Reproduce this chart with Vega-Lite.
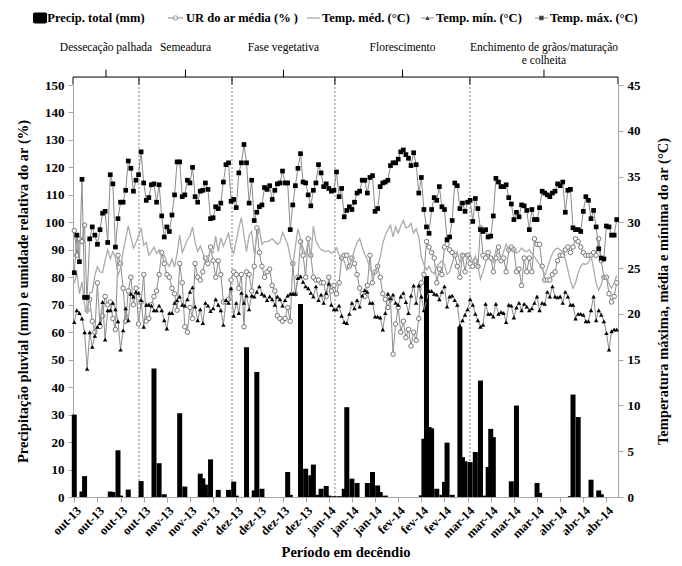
{
"$schema":"https://vega.github.io/schema/vega-lite/v6.json",
"width":545,"height":412,
"autosize":{"type":"none"},
"padding":{"left":73,"top":85,"right":64,"bottom":69},
"background":"white",
"config":{"view":{"stroke":null},"font":"Liberation Serif",
"axis":{"grid":false,"labelFont":"Liberation Serif","titleFont":"Liberation Serif","labelFontWeight":"bold","titleFontWeight":"bold","labelFontSize":13,"titleFontSize":14.5,"labelColor":"black","titleColor":"black","domainColor":"#a6a6a6","tickColor":"#a6a6a6","tickSize":5}},
"datasets":{
"diario":[
{"dia":"2013-10-01","p":30,"ur":97,"tmed":23.3,"tmin":19.1,"tmax":24.5},
{"dia":"2013-10-02","p":0,"ur":88,"tmed":24.5,"tmin":20.4,"tmax":28.6},
{"dia":"2013-10-03","p":0,"ur":94,"tmed":22.2,"tmin":20.1,"tmax":25.7},
{"dia":"2013-10-04","p":2,"ur":93,"tmed":23.5,"tmin":19.5,"tmax":34.7},
{"dia":"2013-10-05","p":7.6,"ur":99,"tmed":21.0,"tmin":18.0,"tmax":21.8},
{"dia":"2013-10-06","p":0,"ur":68,"tmed":20.0,"tmin":14.0,"tmax":21.8},
{"dia":"2013-10-07","p":0,"ur":72,"tmed":22.3,"tmin":18.0,"tmax":28.2},
{"dia":"2013-10-08","p":0,"ur":64,"tmed":22.4,"tmin":16.4,"tmax":29.5},
{"dia":"2013-10-09","p":0,"ur":60,"tmed":24.2,"tmin":17.6,"tmax":28.6},
{"dia":"2013-10-10","p":0,"ur":78,"tmed":25.2,"tmin":18.6,"tmax":27.6},
{"dia":"2013-10-11","p":0,"ur":62,"tmed":24.6,"tmin":19.0,"tmax":29.2},
{"dia":"2013-10-12","p":0,"ur":66,"tmed":24.5,"tmin":21.3,"tmax":31.0},
{"dia":"2013-10-13","p":0,"ur":73,"tmed":25.9,"tmin":17.2,"tmax":31.2},
{"dia":"2013-10-14","p":0,"ur":70,"tmed":27.0,"tmin":20.4,"tmax":27.8},
{"dia":"2013-10-15","p":2,"ur":71,"tmed":26.0,"tmin":20.4,"tmax":35.2},
{"dia":"2013-10-16","p":1.8,"ur":65,"tmed":26.8,"tmin":21.2,"tmax":34.2},
{"dia":"2013-10-17","p":0,"ur":61,"tmed":26.2,"tmin":20.5,"tmax":27.3},
{"dia":"2013-10-18","p":17,"ur":88,"tmed":24.2,"tmin":19.2,"tmax":30.4},
{"dia":"2013-10-19","p":0.5,"ur":85,"tmed":25.0,"tmin":16.1,"tmax":32.2},
{"dia":"2013-10-20","p":0,"ur":76,"tmed":26.8,"tmin":18.2,"tmax":32.2},
{"dia":"2013-10-21","p":0,"ur":64,"tmed":28.2,"tmin":20.6,"tmax":33.5},
{"dia":"2013-10-22","p":2.7,"ur":75,"tmed":29.6,"tmin":19.3,"tmax":36.7},
{"dia":"2013-10-23","p":0,"ur":80,"tmed":28.4,"tmin":22.2,"tmax":35.9},
{"dia":"2013-10-24","p":0,"ur":70,"tmed":27.2,"tmin":21.9,"tmax":33.4},
{"dia":"2013-10-25","p":0,"ur":76,"tmed":27.8,"tmin":22.4,"tmax":34.6},
{"dia":"2013-10-26","p":0,"ur":63,"tmed":28.5,"tmin":22.3,"tmax":35.2},
{"dia":"2013-10-27","p":5.8,"ur":71,"tmed":29.4,"tmin":21.5,"tmax":37.7},
{"dia":"2013-10-28","p":0,"ur":81,"tmed":27.5,"tmin":18.6,"tmax":34.3},
{"dia":"2013-10-29","p":0,"ur":64,"tmed":27.8,"tmin":21.0,"tmax":32.4},
{"dia":"2013-10-30","p":0,"ur":65,"tmed":26.4,"tmin":21.0,"tmax":32.7},
{"dia":"2013-10-31","p":0,"ur":70,"tmed":26.8,"tmin":20.9,"tmax":34.1},
{"dia":"2013-11-01","p":46.8,"ur":73,"tmed":27.3,"tmin":20.4,"tmax":34.2},
{"dia":"2013-11-02","p":0,"ur":75,"tmed":26.6,"tmin":20.4,"tmax":32.2},
{"dia":"2013-11-03","p":12.3,"ur":81,"tmed":27.0,"tmin":20.9,"tmax":34.1},
{"dia":"2013-11-04","p":0,"ur":89,"tmed":26.2,"tmin":20.4,"tmax":30.7},
{"dia":"2013-11-05","p":1,"ur":85,"tmed":26.4,"tmin":19.3,"tmax":28.4},
{"dia":"2013-11-06","p":0,"ur":81,"tmed":25.6,"tmin":18.4,"tmax":29.5},
{"dia":"2013-11-07","p":0,"ur":80,"tmed":25.2,"tmin":20.1,"tmax":29.0},
{"dia":"2013-11-08","p":0,"ur":76,"tmed":26.0,"tmin":20.1,"tmax":30.8},
{"dia":"2013-11-09","p":0,"ur":74,"tmed":25.1,"tmin":21.2,"tmax":33.0},
{"dia":"2013-11-10","p":0,"ur":68,"tmed":26.6,"tmin":21.5,"tmax":36.6},
{"dia":"2013-11-11","p":30.5,"ur":85,"tmed":28.6,"tmin":21.9,"tmax":36.6},
{"dia":"2013-11-12","p":0,"ur":78,"tmed":26.7,"tmin":21.0,"tmax":32.8},
{"dia":"2013-11-13","p":3.8,"ur":62,"tmed":27.4,"tmin":20.9,"tmax":33.0},
{"dia":"2013-11-14","p":0,"ur":60,"tmed":28.1,"tmin":21.6,"tmax":34.6},
{"dia":"2013-11-15","p":0,"ur":69,"tmed":28.5,"tmin":22.4,"tmax":34.3},
{"dia":"2013-11-16","p":0,"ur":65,"tmed":29.5,"tmin":22.9,"tmax":36.0},
{"dia":"2013-11-17","p":0,"ur":85,"tmed":27.8,"tmin":20.8,"tmax":32.8},
{"dia":"2013-11-18","p":0,"ur":80,"tmed":26.8,"tmin":19.3,"tmax":32.2},
{"dia":"2013-11-19","p":8.5,"ur":79,"tmed":27.4,"tmin":20.5,"tmax":33.4},
{"dia":"2013-11-20","p":6.8,"ur":82,"tmed":26.7,"tmin":19.0,"tmax":33.5},
{"dia":"2013-11-21","p":4.5,"ur":87,"tmed":25.6,"tmin":21.2,"tmax":34.3},
{"dia":"2013-11-22","p":0,"ur":85,"tmed":26.3,"tmin":20.9,"tmax":33.6},
{"dia":"2013-11-23","p":13.7,"ur":91,"tmed":26.8,"tmin":20.3,"tmax":30.4},
{"dia":"2013-11-24","p":0,"ur":86,"tmed":26.7,"tmin":20.6,"tmax":30.5},
{"dia":"2013-11-25","p":0,"ur":80,"tmed":28.5,"tmin":21.6,"tmax":31.7},
{"dia":"2013-11-26","p":2.6,"ur":86,"tmed":26.8,"tmin":21.0,"tmax":31.5},
{"dia":"2013-11-27","p":0,"ur":81,"tmed":28.3,"tmin":20.4,"tmax":32.1},
{"dia":"2013-11-28","p":0,"ur":71,"tmed":27.4,"tmin":18.8,"tmax":34.4},
{"dia":"2013-11-29","p":0,"ur":71,"tmed":28.1,"tmin":21.5,"tmax":36.3},
{"dia":"2013-11-30","p":2.6,"ur":72,"tmed":28.8,"tmin":21.2,"tmax":36.5},
{"dia":"2013-12-01","p":0,"ur":79,"tmed":27.2,"tmin":22.8,"tmax":32.3},
{"dia":"2013-12-02","p":5.6,"ur":82,"tmed":26.6,"tmin":19.8,"tmax":32.5},
{"dia":"2013-12-03","p":0.5,"ur":81,"tmed":28.0,"tmin":21.2,"tmax":31.6},
{"dia":"2013-12-04","p":0,"ur":76,"tmed":29.4,"tmin":20.1,"tmax":35.4},
{"dia":"2013-12-05","p":0,"ur":81,"tmed":30.5,"tmin":22.3,"tmax":36.5},
{"dia":"2013-12-06","p":0,"ur":62,"tmed":28.6,"tmin":21.2,"tmax":38.5},
{"dia":"2013-12-07","p":54.5,"ur":82,"tmed":26.8,"tmin":22.0,"tmax":36.5},
{"dia":"2013-12-08","p":0,"ur":81,"tmed":28.6,"tmin":20.5,"tmax":32.1},
{"dia":"2013-12-09","p":0,"ur":75,"tmed":29.0,"tmin":22.0,"tmax":34.6},
{"dia":"2013-12-10","p":2.4,"ur":84,"tmed":26.6,"tmin":21.9,"tmax":30.2},
{"dia":"2013-12-11","p":45.5,"ur":98,"tmed":28.4,"tmin":22.4,"tmax":31.1},
{"dia":"2013-12-12","p":0,"ur":89,"tmed":29.2,"tmin":23.0,"tmax":31.7},
{"dia":"2013-12-13","p":3,"ur":84,"tmed":27.6,"tmin":22.2,"tmax":31.9},
{"dia":"2013-12-14","p":0,"ur":80,"tmed":27.9,"tmin":22.0,"tmax":33.8},
{"dia":"2013-12-15","p":0,"ur":82,"tmed":27.9,"tmin":21.5,"tmax":33.6},
{"dia":"2013-12-16","p":0,"ur":83,"tmed":28.0,"tmin":21.9,"tmax":34.0},
{"dia":"2013-12-17","p":0,"ur":77,"tmed":28.2,"tmin":21.6,"tmax":32.5},
{"dia":"2013-12-18","p":0,"ur":75,"tmed":27.9,"tmin":21.0,"tmax":33.5},
{"dia":"2013-12-19","p":0,"ur":66,"tmed":27.6,"tmin":21.9,"tmax":34.2},
{"dia":"2013-12-20","p":0,"ur":65,"tmed":27.8,"tmin":21.6,"tmax":34.3},
{"dia":"2013-12-21","p":0,"ur":64,"tmed":28.9,"tmin":20.9,"tmax":35.6},
{"dia":"2013-12-22","p":0,"ur":65,"tmed":28.3,"tmin":21.5,"tmax":34.3},
{"dia":"2013-12-23","p":9.1,"ur":69,"tmed":27.6,"tmin":22.0,"tmax":34.3},
{"dia":"2013-12-24","p":0.8,"ur":64,"tmed":26.2,"tmin":22.2,"tmax":29.2},
{"dia":"2013-12-25","p":0,"ur":85,"tmed":25.3,"tmin":22.2,"tmax":31.9},
{"dia":"2013-12-26","p":0,"ur":74,"tmed":27.4,"tmin":22.2,"tmax":34.0},
{"dia":"2013-12-27","p":0,"ur":80,"tmed":29.3,"tmin":23.9,"tmax":35.9},
{"dia":"2013-12-28","p":70.3,"ur":93,"tmed":28.2,"tmin":24.1,"tmax":37.5},
{"dia":"2013-12-29","p":0,"ur":88,"tmed":27.2,"tmin":23.5,"tmax":34.4},
{"dia":"2013-12-30","p":10.3,"ur":80,"tmed":26.4,"tmin":23.0,"tmax":34.3},
{"dia":"2013-12-31","p":0.5,"ur":94,"tmed":28.0,"tmin":22.8,"tmax":33.0},
{"dia":"2014-01-01","p":7.9,"ur":88,"tmed":26.1,"tmin":22.3,"tmax":31.8},
{"dia":"2014-01-02","p":11.8,"ur":80,"tmed":29.6,"tmin":21.9,"tmax":33.5},
{"dia":"2014-01-03","p":0,"ur":79,"tmed":28.0,"tmin":23.0,"tmax":34.3},
{"dia":"2014-01-04","p":0.8,"ur":79,"tmed":27.4,"tmin":21.5,"tmax":36.3},
{"dia":"2014-01-05","p":3,"ur":78,"tmed":27.0,"tmin":22.1,"tmax":35.4},
{"dia":"2014-01-06","p":0,"ur":78,"tmed":26.9,"tmin":21.2,"tmax":33.9},
{"dia":"2014-01-07","p":4,"ur":73,"tmed":26.8,"tmin":22.3,"tmax":34.2},
{"dia":"2014-01-08","p":0.5,"ur":80,"tmed":26.9,"tmin":23.3,"tmax":33.7},
{"dia":"2014-01-09","p":0,"ur":75,"tmed":26.6,"tmin":21.0,"tmax":33.4},
{"dia":"2014-01-10","p":0.3,"ur":77,"tmed":26.8,"tmin":20.5,"tmax":33.5},
{"dia":"2014-01-11","p":0,"ur":74,"tmed":27.2,"tmin":20.5,"tmax":35.5},
{"dia":"2014-01-12","p":0.3,"ur":78,"tmed":26.5,"tmin":20.9,"tmax":32.8},
{"dia":"2014-01-13","p":0,"ur":87,"tmed":26.0,"tmin":19.8,"tmax":33.7},
{"dia":"2014-01-14","p":3,"ur":88,"tmed":25.8,"tmin":19.1,"tmax":30.6},
{"dia":"2014-01-15","p":32.7,"ur":88,"tmed":24.8,"tmin":19.0,"tmax":31.3},
{"dia":"2014-01-16","p":0,"ur":84,"tmed":25.2,"tmin":20.0,"tmax":31.7},
{"dia":"2014-01-17","p":6.7,"ur":87,"tmed":26.0,"tmin":21.2,"tmax":31.4},
{"dia":"2014-01-18","p":0,"ur":85,"tmed":27.0,"tmin":20.6,"tmax":32.2},
{"dia":"2014-01-19","p":5.1,"ur":81,"tmed":27.8,"tmin":21.5,"tmax":33.2},
{"dia":"2014-01-20","p":0,"ur":76,"tmed":28.2,"tmin":20.8,"tmax":33.4},
{"dia":"2014-01-21","p":0,"ur":74,"tmed":27.3,"tmin":22.0,"tmax":34.6},
{"dia":"2014-01-22","p":0,"ur":73,"tmed":26.5,"tmin":22.6,"tmax":34.6},
{"dia":"2014-01-23","p":5.1,"ur":77,"tmed":25.9,"tmin":22.4,"tmax":33.2},
{"dia":"2014-01-24","p":0,"ur":88,"tmed":25.0,"tmin":21.2,"tmax":34.9},
{"dia":"2014-01-25","p":9.1,"ur":78,"tmed":24.2,"tmin":21.2,"tmax":35.1},
{"dia":"2014-01-26","p":0,"ur":82,"tmed":24.6,"tmin":19.7,"tmax":31.2},
{"dia":"2014-01-27","p":4.2,"ur":84,"tmed":25.2,"tmin":19.7,"tmax":31.5},
{"dia":"2014-01-28","p":1.8,"ur":80,"tmed":26.2,"tmin":19.6,"tmax":33.9},
{"dia":"2014-01-29","p":0,"ur":74,"tmed":27.7,"tmin":18.3,"tmax":34.3},
{"dia":"2014-01-30","p":0.5,"ur":72,"tmed":28.6,"tmin":20.1,"tmax":34.4},
{"dia":"2014-01-31","p":0,"ur":69,"tmed":29.2,"tmin":22.2,"tmax":34.6},
{"dia":"2014-02-01","p":0,"ur":72,"tmed":29.7,"tmin":21.7,"tmax":36.2},
{"dia":"2014-02-02","p":0,"ur":52,"tmed":28.4,"tmin":22.1,"tmax":36.5},
{"dia":"2014-02-03","p":0,"ur":63,"tmed":29.5,"tmin":21.2,"tmax":36.5},
{"dia":"2014-02-04","p":0,"ur":69,"tmed":28.8,"tmin":21.0,"tmax":36.9},
{"dia":"2014-02-05","p":0,"ur":60,"tmed":29.6,"tmin":21.9,"tmax":37.7},
{"dia":"2014-02-06","p":0,"ur":64,"tmed":30.2,"tmin":22.3,"tmax":37.9},
{"dia":"2014-02-07","p":0,"ur":58,"tmed":29.4,"tmin":21.3,"tmax":37.4},
{"dia":"2014-02-08","p":0,"ur":61,"tmed":29.5,"tmin":20.1,"tmax":37.0},
{"dia":"2014-02-09","p":0,"ur":55,"tmed":29.9,"tmin":22.0,"tmax":36.2},
{"dia":"2014-02-10","p":0,"ur":60,"tmed":28.8,"tmin":23.1,"tmax":37.6},
{"dia":"2014-02-11","p":0,"ur":57,"tmed":29.3,"tmin":21.2,"tmax":36.3},
{"dia":"2014-02-12","p":0,"ur":65,"tmed":28.4,"tmin":23.1,"tmax":33.2},
{"dia":"2014-02-13","p":0.6,"ur":78,"tmed":26.2,"tmin":21.9,"tmax":34.9},
{"dia":"2014-02-14","p":21.2,"ur":81,"tmed":25.4,"tmin":20.4,"tmax":31.4},
{"dia":"2014-02-15","p":80.5,"ur":93,"tmed":24.8,"tmin":21.5,"tmax":29.5},
{"dia":"2014-02-16","p":25.5,"ur":91,"tmed":25.2,"tmin":22.5,"tmax":28.8},
{"dia":"2014-02-17","p":25,"ur":89,"tmed":24.6,"tmin":22.5,"tmax":31.4},
{"dia":"2014-02-18","p":0,"ur":87,"tmed":24.4,"tmin":22.2,"tmax":32.7},
{"dia":"2014-02-19","p":3,"ur":78,"tmed":25.2,"tmin":22.1,"tmax":32.4},
{"dia":"2014-02-20","p":0,"ur":83,"tmed":25.5,"tmin":21.6,"tmax":33.9},
{"dia":"2014-02-21","p":0.8,"ur":81,"tmed":25.8,"tmin":22.4,"tmax":31.7},
{"dia":"2014-02-22","p":5.5,"ur":91,"tmed":25.4,"tmin":23.0,"tmax":31.4},
{"dia":"2014-02-23","p":19.8,"ur":92,"tmed":24.3,"tmin":20.8,"tmax":28.1},
{"dia":"2014-02-24","p":0,"ur":90,"tmed":24.6,"tmin":21.9,"tmax":28.4},
{"dia":"2014-02-25","p":0.8,"ur":89,"tmed":25.5,"tmin":22.0,"tmax":30.2},
{"dia":"2014-02-26","p":0,"ur":88,"tmed":26.5,"tmin":21.5,"tmax":34.3},
{"dia":"2014-02-27","p":0,"ur":84,"tmed":26.8,"tmin":21.0,"tmax":34.0},
{"dia":"2014-02-28","p":62,"ur":80,"tmed":25.6,"tmin":18.7,"tmax":31.5},
{"dia":"2014-03-01","p":14.5,"ur":88,"tmed":26.5,"tmin":19.3,"tmax":32.1},
{"dia":"2014-03-02","p":13,"ur":82,"tmed":26.6,"tmin":19.9,"tmax":31.2},
{"dia":"2014-03-03","p":0,"ur":88,"tmed":26.2,"tmin":20.5,"tmax":32.2},
{"dia":"2014-03-04","p":12.7,"ur":85,"tmed":26.5,"tmin":21.6,"tmax":32.4},
{"dia":"2014-03-05","p":0,"ur":84,"tmed":25.6,"tmin":21.0,"tmax":30.1},
{"dia":"2014-03-06","p":16.4,"ur":86,"tmed":26.3,"tmin":20.0,"tmax":32.6},
{"dia":"2014-03-07","p":0,"ur":84,"tmed":25.2,"tmin":19.3,"tmax":31.5},
{"dia":"2014-03-08","p":42.4,"ur":98,"tmed":23.8,"tmin":18.6,"tmax":29.2},
{"dia":"2014-03-09","p":0,"ur":88,"tmed":24.6,"tmin":18.8,"tmax":29.0},
{"dia":"2014-03-10","p":0.5,"ur":87,"tmed":25.6,"tmin":21.1,"tmax":29.2},
{"dia":"2014-03-11","p":10.9,"ur":89,"tmed":26.3,"tmin":20.0,"tmax":28.4},
{"dia":"2014-03-12","p":24.8,"ur":87,"tmed":25.8,"tmin":20.0,"tmax":28.5},
{"dia":"2014-03-13","p":21.8,"ur":82,"tmed":25.6,"tmin":19.7,"tmax":30.7},
{"dia":"2014-03-14","p":0,"ur":87,"tmed":27.0,"tmin":21.1,"tmax":34.8},
{"dia":"2014-03-15","p":0,"ur":91,"tmed":26.6,"tmin":20.0,"tmax":34.4},
{"dia":"2014-03-16","p":0,"ur":86,"tmed":26.0,"tmin":20.2,"tmax":33.9},
{"dia":"2014-03-17","p":0,"ur":87,"tmed":26.8,"tmin":20.1,"tmax":33.9},
{"dia":"2014-03-18","p":0,"ur":82,"tmed":27.6,"tmin":19.1,"tmax":34.1},
{"dia":"2014-03-19","p":0,"ur":90,"tmed":27.0,"tmin":21.0,"tmax":32.7},
{"dia":"2014-03-20","p":5.7,"ur":91,"tmed":27.2,"tmin":20.9,"tmax":32.0},
{"dia":"2014-03-21","p":0,"ur":90,"tmed":27.0,"tmin":19.6,"tmax":30.3},
{"dia":"2014-03-22","p":33.3,"ur":82,"tmed":26.6,"tmin":20.7,"tmax":31.1},
{"dia":"2014-03-23","p":0,"ur":83,"tmed":26.8,"tmin":21.2,"tmax":30.6},
{"dia":"2014-03-24","p":0,"ur":77,"tmed":27.2,"tmin":20.4,"tmax":31.9},
{"dia":"2014-03-25","p":0,"ur":87,"tmed":26.9,"tmin":21.1,"tmax":31.8},
{"dia":"2014-03-26","p":0,"ur":82,"tmed":26.8,"tmin":20.8,"tmax":31.3},
{"dia":"2014-03-27","p":0,"ur":87,"tmed":27.0,"tmin":20.4,"tmax":29.2},
{"dia":"2014-03-28","p":0,"ur":82,"tmed":26.6,"tmin":20.6,"tmax":31.4},
{"dia":"2014-03-29","p":0,"ur":94,"tmed":26.2,"tmin":21.2,"tmax":30.3},
{"dia":"2014-03-30","p":5.1,"ur":92,"tmed":25.8,"tmin":21.9,"tmax":30.3},
{"dia":"2014-03-31","p":1.5,"ur":92,"tmed":25.4,"tmin":20.4,"tmax":31.6},
{"dia":"2014-04-01","p":0,"ur":84,"tmed":25.0,"tmin":21.2,"tmax":33.4},
{"dia":"2014-04-02","p":0,"ur":79,"tmed":24.2,"tmin":21.1,"tmax":33.2},
{"dia":"2014-04-03","p":0,"ur":79,"tmed":25.0,"tmin":22.4,"tmax":33.0},
{"dia":"2014-04-04","p":0,"ur":79,"tmed":25.9,"tmin":21.9,"tmax":32.8},
{"dia":"2014-04-05","p":0,"ur":81,"tmed":26.6,"tmin":23.0,"tmax":33.2},
{"dia":"2014-04-06","p":0,"ur":82,"tmed":27.0,"tmin":21.9,"tmax":33.4},
{"dia":"2014-04-07","p":0,"ur":86,"tmed":27.2,"tmin":21.8,"tmax":34.2},
{"dia":"2014-04-08","p":0,"ur":88,"tmed":27.0,"tmin":21.9,"tmax":34.0},
{"dia":"2014-04-09","p":0,"ur":88,"tmed":26.8,"tmin":21.2,"tmax":34.4},
{"dia":"2014-04-10","p":0,"ur":90,"tmed":26.0,"tmin":22.4,"tmax":31.1},
{"dia":"2014-04-11","p":0,"ur":91,"tmed":24.8,"tmin":21.9,"tmax":33.5},
{"dia":"2014-04-12","p":0.3,"ur":89,"tmed":23.6,"tmin":21.0,"tmax":33.6},
{"dia":"2014-04-13","p":37.3,"ur":91,"tmed":22.8,"tmin":21.0,"tmax":29.4},
{"dia":"2014-04-14","p":0,"ur":94,"tmed":23.4,"tmin":19.5,"tmax":29.2},
{"dia":"2014-04-15","p":29.1,"ur":93,"tmed":24.5,"tmin":20.0,"tmax":29.2},
{"dia":"2014-04-16","p":0,"ur":91,"tmed":25.2,"tmin":20.0,"tmax":29.0},
{"dia":"2014-04-17","p":0,"ur":89,"tmed":25.5,"tmin":19.9,"tmax":31.2},
{"dia":"2014-04-18","p":0,"ur":88,"tmed":25.4,"tmin":19.2,"tmax":32.8},
{"dia":"2014-04-19","p":0,"ur":88,"tmed":25.6,"tmin":19.2,"tmax":32.4},
{"dia":"2014-04-20","p":6.3,"ur":88,"tmed":26.3,"tmin":20.4,"tmax":30.4},
{"dia":"2014-04-21","p":0,"ur":89,"tmed":25.0,"tmin":21.9,"tmax":31.3},
{"dia":"2014-04-22","p":0,"ur":88,"tmed":23.3,"tmin":19.3,"tmax":29.5},
{"dia":"2014-04-23","p":2.4,"ur":94,"tmed":22.6,"tmin":20.4,"tmax":27.1},
{"dia":"2014-04-24","p":1,"ur":86,"tmed":23.2,"tmin":19.9,"tmax":26.1},
{"dia":"2014-04-25","p":0,"ur":80,"tmed":24.3,"tmin":19.2,"tmax":26.0},
{"dia":"2014-04-26","p":0,"ur":80,"tmed":24.0,"tmin":17.9,"tmax":29.6},
{"dia":"2014-04-27","p":0,"ur":74,"tmed":23.3,"tmin":16.1,"tmax":29.5},
{"dia":"2014-04-28","p":0,"ur":71,"tmed":22.8,"tmin":18.1,"tmax":28.6},
{"dia":"2014-04-29","p":0,"ur":73,"tmed":23.4,"tmin":18.3,"tmax":28.6},
{"dia":"2014-04-30","p":0,"ur":78,"tmed":24.2,"tmin":18.3,"tmax":30.3}
],
"fases":[
{"dia":"2013-10-13T08:00:00Z","fase":"Dessecação palhada"},
{"dia":"2013-11-13T06:00:00Z","fase":"Semeadura"},
{"dia":"2013-12-21T09:00:00Z","fase":"Fase vegetativa"},
{"dia":"2014-02-05T16:00:00Z","fase":"Florescimento"},
{"dia":"2014-04-01T17:00:00Z","fase":"Enchimento de grãos/maturação|e colheita"}
],
"marcos":[
{"dia":"2013-09-30T12:00:00Z"},{"dia":"2013-10-26T04:00:00Z"},{"dia":"2013-12-01T08:30:00Z"},{"dia":"2014-01-10T09:30:00Z"},{"dia":"2014-03-03T21:30:00Z"},{"dia":"2014-04-30T12:00:00Z"}
],
"limites":[
{"dia":"2013-10-26T04:00:00Z"},{"dia":"2013-12-01T08:30:00Z"},{"dia":"2014-01-10T09:30:00Z"},{"dia":"2014-03-03T21:30:00Z"}
],
"chave":[{"dia":"2013-09-30T12:00:00Z","fim":"2014-04-30T12:00:00Z"}],
"leg_caixa":[{"dia":"2013-09-14T22:30:00Z","fim":"2013-09-20T09:30:00Z"}],
"leg_linhas":[
{"dia":"2013-11-06T11:00:00Z","fim":"2013-11-12T07:00:00Z"},
{"dia":"2013-12-30T12:30:00Z","fim":"2014-01-04T14:00:00Z"},
{"dia":"2014-02-12T21:30:00Z","fim":"2014-02-17T21:30:00Z"},
{"dia":"2014-03-29T05:00:00Z","fim":"2014-04-03T07:00:00Z"}
],
"leg_textos":[
{"dia":"2013-09-20T12:00:00Z","rotulo":"Precip. total (mm)"},
{"dia":"2013-11-13T11:00:00Z","rotulo":"UR do ar média (% )"},
{"dia":"2014-01-05T08:40:00Z","rotulo":"Temp. méd. (°C)"},
{"dia":"2014-02-18T17:00:00Z","rotulo":"Temp. mín. (°C)"},
{"dia":"2014-04-04T00:00:00Z","rotulo":"Temp. máx. (°C)"}
]
},
"encoding":{
 "x":{"field":"dia","type":"temporal","title":"Período em decêndio",
  "scale":{"type":"utc","nice":false,"padding":0,"domain":[1380542400000,1398859200000]},
  "axis":{"orient":"bottom","labelAngle":-45,"labelFontSize":12.5,"labelPadding":2,"titlePadding":6,"labelOverlap":false,"labelBound":false,
   "labelExpr":"['jan','fev','mar','abr','mai','jun','jul','ago','set','out','nov','dez'][utcmonth(datum.value)] + '-' + utcFormat(datum.value, '%y')",
   "values":[1380585600000,1381363200000,1382140800000,1382918400000,1383696000000,1384473600000,1385251200000,1386028800000,1386806400000,1387584000000,1388361600000,1389139200000,1389916800000,1390694400000,1391472000000,1392249600000,1393027200000,1393804800000,1394582400000,1395360000000,1396137600000,1396915200000,1397692800000,1398470400000]}}
},
"layer":[
{"layer":[
{"data":{"name":"limites"},"mark":{"type":"rule","stroke":"#808080","strokeWidth":1,"strokeDash":[2,2]},
 "encoding":{"y":{"datum":0,"title":"Precipitação pluvial (mm) e umidade relativa do ar (%)","scale":{"domain":[0,150],"nice":false},"axis":{"orient":"left","values":[0,10,20,30,40,50,60,70,80,90,100,110,120,130,140,150],"labelPadding":4,"titlePadding":14}},"y2":{"datum":152.9}}},
{"data":{"name":"diario"},"mark":{"type":"bar","color":"black","size":5},
 "encoding":{"y":{"field":"p","type":"quantitative","title":"Precipitação pluvial (mm) e umidade relativa do ar (%)","scale":{"domain":[0,150],"nice":false},"axis":{"orient":"left","values":[0,10,20,30,40,50,60,70,80,90,100,110,120,130,140,150],"labelPadding":4,"titlePadding":14}}}},
{"data":{"name":"chave"},"mark":{"type":"rule","stroke":"black","strokeWidth":1},
 "encoding":{"x2":{"field":"fim"},"y":{"datum":152.9,"title":"Precipitação pluvial (mm) e umidade relativa do ar (%)","scale":{"domain":[0,150],"nice":false},"axis":{"orient":"left","values":[0,10,20,30,40,50,60,70,80,90,100,110,120,130,140,150],"labelPadding":4,"titlePadding":14}}}},
{"data":{"name":"marcos"},"mark":{"type":"rule","stroke":"black","strokeWidth":1},
 "encoding":{"y":{"datum":150.2,"title":"Precipitação pluvial (mm) e umidade relativa do ar (%)","scale":{"domain":[0,150],"nice":false},"axis":{"orient":"left","values":[0,10,20,30,40,50,60,70,80,90,100,110,120,130,140,150],"labelPadding":4,"titlePadding":14}},"y2":{"datum":152.9}}},
{"data":{"name":"fases"},"mark":{"type":"rule","stroke":"black","strokeWidth":1},
 "encoding":{"y":{"datum":152.9,"title":"Precipitação pluvial (mm) e umidade relativa do ar (%)","scale":{"domain":[0,150],"nice":false},"axis":{"orient":"left","values":[0,10,20,30,40,50,60,70,80,90,100,110,120,130,140,150],"labelPadding":4,"titlePadding":14}},"y2":{"datum":155.6}}},
{"data":{"name":"fases"},"mark":{"type":"text","font":"Liberation Serif","fontSize":11.5,"align":"center","baseline":"middle","lineBreak":"|","lineHeight":13,"color":"black"},
 "encoding":{"y":{"datum":163.6,"title":"Precipitação pluvial (mm) e umidade relativa do ar (%)","scale":{"domain":[0,150],"nice":false},"axis":{"orient":"left","values":[0,10,20,30,40,50,60,70,80,90,100,110,120,130,140,150],"labelPadding":4,"titlePadding":14}},"text":{"field":"fase"}}},
{"data":{"name":"diario"},"mark":{"type":"line","stroke":"#8c8c8c","strokeWidth":1},
 "encoding":{"y":{"field":"ur","type":"quantitative","title":"Precipitação pluvial (mm) e umidade relativa do ar (%)","scale":{"domain":[0,150],"nice":false},"axis":{"orient":"left","values":[0,10,20,30,40,50,60,70,80,90,100,110,120,130,140,150],"labelPadding":4,"titlePadding":14}}}},
{"data":{"name":"diario"},"mark":{"type":"point","shape":"circle","filled":true,"fill":"white","stroke":"#666666","strokeWidth":0.9,"size":20,"opacity":1},
 "encoding":{"y":{"field":"ur","type":"quantitative","title":"Precipitação pluvial (mm) e umidade relativa do ar (%)","scale":{"domain":[0,150],"nice":false},"axis":{"orient":"left","values":[0,10,20,30,40,50,60,70,80,90,100,110,120,130,140,150],"labelPadding":4,"titlePadding":14}}}},
{"data":{"name":"leg_caixa"},"mark":{"type":"rect","color":"black","cornerRadius":2},
 "encoding":{"x2":{"field":"fim"},"y":{"datum":172.4,"title":"Precipitação pluvial (mm) e umidade relativa do ar (%)","scale":{"domain":[0,150],"nice":false},"axis":{"orient":"left","values":[0,10,20,30,40,50,60,70,80,90,100,110,120,130,140,150],"labelPadding":4,"titlePadding":14}},"y2":{"datum":176.4}}},
{"data":{"name":"leg_linhas"},"mark":{"type":"rule","stroke":"#8c8c8c","strokeWidth":1},
 "encoding":{"x2":{"field":"fim"},"y":{"datum":174.4,"title":"Precipitação pluvial (mm) e umidade relativa do ar (%)","scale":{"domain":[0,150],"nice":false},"axis":{"orient":"left","values":[0,10,20,30,40,50,60,70,80,90,100,110,120,130,140,150],"labelPadding":4,"titlePadding":14}}}},
{"data":{"values":[{"dia":"2013-11-09T09:00:00Z"}]},"mark":{"type":"point","shape":"circle","filled":true,"fill":"white","stroke":"#666666","strokeWidth":0.9,"size":20},
 "encoding":{"y":{"datum":174.4,"title":"Precipitação pluvial (mm) e umidade relativa do ar (%)","scale":{"domain":[0,150],"nice":false},"axis":{"orient":"left","values":[0,10,20,30,40,50,60,70,80,90,100,110,120,130,140,150],"labelPadding":4,"titlePadding":14}}}},
{"data":{"values":[{"dia":"2014-02-15T09:30:00Z"}]},"mark":{"type":"point","shape":"triangle-up","filled":true,"color":"black","size":20},
 "encoding":{"y":{"datum":174.4,"title":"Precipitação pluvial (mm) e umidade relativa do ar (%)","scale":{"domain":[0,150],"nice":false},"axis":{"orient":"left","values":[0,10,20,30,40,50,60,70,80,90,100,110,120,130,140,150],"labelPadding":4,"titlePadding":14}}}},
{"data":{"values":[{"dia":"2014-03-31T17:00:00Z"}]},"mark":{"type":"point","shape":"square","filled":true,"color":"black","size":20},
 "encoding":{"y":{"datum":174.4,"title":"Precipitação pluvial (mm) e umidade relativa do ar (%)","scale":{"domain":[0,150],"nice":false},"axis":{"orient":"left","values":[0,10,20,30,40,50,60,70,80,90,100,110,120,130,140,150],"labelPadding":4,"titlePadding":14}}}},
{"data":{"name":"leg_textos"},"mark":{"type":"text","font":"Liberation Serif","fontSize":12.5,"fontWeight":"bold","align":"left","baseline":"middle","color":"black"},
 "encoding":{"y":{"datum":174.4,"title":"Precipitação pluvial (mm) e umidade relativa do ar (%)","scale":{"domain":[0,150],"nice":false},"axis":{"orient":"left","values":[0,10,20,30,40,50,60,70,80,90,100,110,120,130,140,150],"labelPadding":4,"titlePadding":14}},"text":{"field":"rotulo"}}}
]},
{"layer":[
{"data":{"name":"diario"},"mark":{"type":"line","stroke":"#ababab","strokeWidth":1.3},
 "encoding":{"y":{"field":"tmed","type":"quantitative","title":"Temperatura máxima, média e mínima do ar (°C)","scale":{"domain":[0,45],"nice":false},"axis":{"orient":"right","values":[0,5,10,15,20,25,30,35,40,45],"labelPadding":4,"titlePadding":16,"titleAngle":270,"titleBaseline":"top"}}}},
{"data":{"name":"diario"},"mark":{"type":"line","stroke":"#8c8c8c","strokeWidth":1},
 "encoding":{"y":{"field":"tmin","type":"quantitative","title":"Temperatura máxima, média e mínima do ar (°C)","scale":{"domain":[0,45],"nice":false},"axis":{"orient":"right","values":[0,5,10,15,20,25,30,35,40,45],"labelPadding":4,"titlePadding":16,"titleAngle":270,"titleBaseline":"top"}}}},
{"data":{"name":"diario"},"mark":{"type":"point","shape":"triangle-up","filled":true,"color":"black","size":20,"opacity":1},
 "encoding":{"y":{"field":"tmin","type":"quantitative","title":"Temperatura máxima, média e mínima do ar (°C)","scale":{"domain":[0,45],"nice":false},"axis":{"orient":"right","values":[0,5,10,15,20,25,30,35,40,45],"labelPadding":4,"titlePadding":16,"titleAngle":270,"titleBaseline":"top"}}}},
{"data":{"name":"diario"},"mark":{"type":"line","stroke":"#8c8c8c","strokeWidth":1},
 "encoding":{"y":{"field":"tmax","type":"quantitative","title":"Temperatura máxima, média e mínima do ar (°C)","scale":{"domain":[0,45],"nice":false},"axis":{"orient":"right","values":[0,5,10,15,20,25,30,35,40,45],"labelPadding":4,"titlePadding":16,"titleAngle":270,"titleBaseline":"top"}}}},
{"data":{"name":"diario"},"mark":{"type":"point","shape":"square","filled":true,"color":"black","size":22,"opacity":1},
 "encoding":{"y":{"field":"tmax","type":"quantitative","title":"Temperatura máxima, média e mínima do ar (°C)","scale":{"domain":[0,45],"nice":false},"axis":{"orient":"right","values":[0,5,10,15,20,25,30,35,40,45],"labelPadding":4,"titlePadding":16,"titleAngle":270,"titleBaseline":"top"}}}}
]}
],
"resolve":{"scale":{"y":"independent"}}
}
